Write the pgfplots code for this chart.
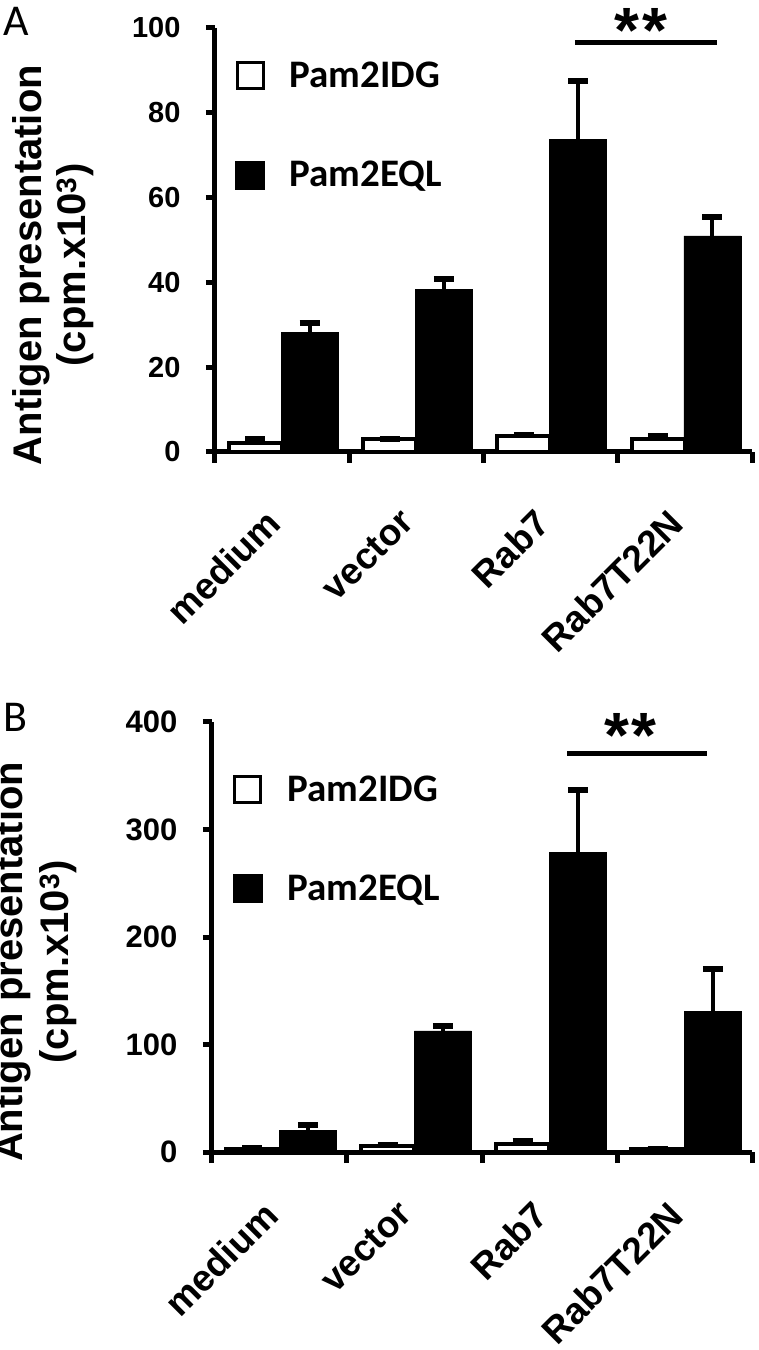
\documentclass[border=0pt]{standalone}
\usepackage{fontspec}
\setmainfont{Liberation Sans}
\newfontfamily\carlito{Carlito}
\usepackage{pgfplots}
\pgfplotsset{compat=1.18}
\pgfplotsset{
  panel/.style={
    scale only axis,
    clip=false,
    axis x line*=bottom, axis y line*=left,
    axis line style={line width=5pt,-},
    xmin=-0.5, xmax=3.5,
    xtick={0,1,2,3},
    xticklabels={medium,vector,Rab7,Rab7T22N},
    major x tick style={draw=none},
    minor xtick={-0.5,0.5,1.5,2.5,3.5},
    minor x tick style={line width=5pt,black},
    minor tick length=11pt,
    tick align=outside,
    major tick length=9pt,
    ytick style={line width=5pt,black},
    ymin=0,
    /pgf/number format/assume math mode=true,
    yticklabel style={xshift=-22pt},
    legend style={draw=none, fill=none, anchor=north west,
      font=\carlito\bfseries\fontsize{39}{40}\selectfont,
      row sep=68pt, legend cell align=left},
  },
  ebar/.style={error bars/.cd, y dir=plus, y explicit,
      error bar style={line width=4pt, black},
      error mark options={rotate=90, line width=6pt, mark size=10pt, black}},
  wbar/.style={ybar, bar width=53pt, bar shift=0pt, fill=white, draw=black, line width=4pt,
     legend image code/.code={\draw[fill=white,draw=black,line width=3pt] (1.5pt,-13pt) rectangle (27.5pt,13pt); \path[draw=none,fill=none] (0pt,0pt) -- (52pt,0pt);}},
  kbar/.style={ybar, bar width=57pt, bar shift=0pt, fill=black, draw=black, line width=0.5pt,
     legend image code/.code={\fill[black] (0pt,-14pt) rectangle (29pt,14pt); \path[draw=none,fill=none] (0pt,0pt) -- (52pt,0pt);}},
}
\begin{document}
\begin{tikzpicture}[x=1pt,y=1pt]
\useasboundingbox (0pt,0pt) rectangle (759pt,1350pt);
% ---------- Panel A ----------
\begin{axis}[panel, at={(215pt,898pt)}, anchor=south west, width=537pt, height=424pt,
  ymax=100, ytick={0,20,40,60,80,100},
  tick label style={font=\fontsize{29}{32}\selectfont\bfseries},
  xticklabel style={xshift=-18pt, yshift=-46pt, rotate=45, anchor=north east, inner sep=0pt, font=\fontsize{37}{40}\selectfont\bfseries},
  legend style={at={(0.032,0.929)}},
  every axis y label/.style={at={(axis description cs:-0.302,0.441)}, rotate=90, anchor=center, align=center, font=\fontsize{40}{44}\selectfont\bfseries},
  ylabel={Antigen presentation\\(cpm.x10\textsuperscript{3})}]
\addplot[wbar, ebar] coordinates {(-0.2,2.2) +- (0,0.8) (0.8,3.0) +- (0,0.1) (1.8,3.8) +- (0,0.2) (2.8,3.0) +- (0,0.7)};
\addlegendentry{Pam2IDG}
\addplot[kbar, ebar] coordinates {(0.205,28.2) +- (0,2.2) (1.205,38.4) +- (0,2.3) (2.205,73.7) +- (0,13.9) (3.205,51.0) +- (0,4.4)};
\addlegendentry{Pam2EQL}
\draw[line width=5pt] (axis cs:2.18,96.5) -- (axis cs:3.24,96.5);
\node[anchor=north, inner sep=0pt, font=\bfseries\fontsize{64}{64}\selectfont] at (axis cs:2.67,104.7) {*\kern3pt*};
\end{axis}
\node[anchor=base west, inner sep=0pt, font=\carlito\fontsize{44}{44}\selectfont] at (3pt,1314pt) {A};
% ---------- Panel B ----------
\begin{axis}[panel, at={(212pt,198pt)}, anchor=south west, width=540pt, height=430pt,
  ymax=400, ytick={0,100,200,300,400},
  tick label style={font=\fontsize{31}{34}\selectfont\bfseries},
  xticklabel style={xshift=-18pt, yshift=-38pt, rotate=45, anchor=north east, inner sep=0pt, font=\fontsize{37}{40}\selectfont\bfseries},
  legend style={at={(0.033,0.884)}},
  every axis y label/.style={at={(axis description cs:-0.328,0.442)}, rotate=90, anchor=center, align=center, font=\fontsize{40}{46}\selectfont\bfseries},
  ylabel={Antigen presentation\\(cpm.x10\textsuperscript{3})}]
\addplot[wbar, ebar] coordinates {(-0.2,3) +- (0,0.5) (0.8,6) +- (0,0.5) (1.8,7) +- (0,3) (2.8,3) +- (0,0)};
\addlegendentry{Pam2IDG}
\addplot[kbar, ebar] coordinates {(0.21,20) +- (0,5.5) (1.21,112.6) +- (0,5) (2.21,279) +- (0,58) (3.21,130.5) +- (0,40)};
\addlegendentry{Pam2EQL}
\draw[line width=5pt] (axis cs:2.13,371) -- (axis cs:3.17,371);
\node[anchor=north, inner sep=0pt, font=\bfseries\fontsize{64}{64}\selectfont] at (axis cs:2.60,408.4) {*\kern3pt*};
\end{axis}
\node[anchor=base west, inner sep=0pt, font=\carlito\fontsize{44}{44}\selectfont] at (3pt,618pt) {B};
\end{tikzpicture}
\end{document}
